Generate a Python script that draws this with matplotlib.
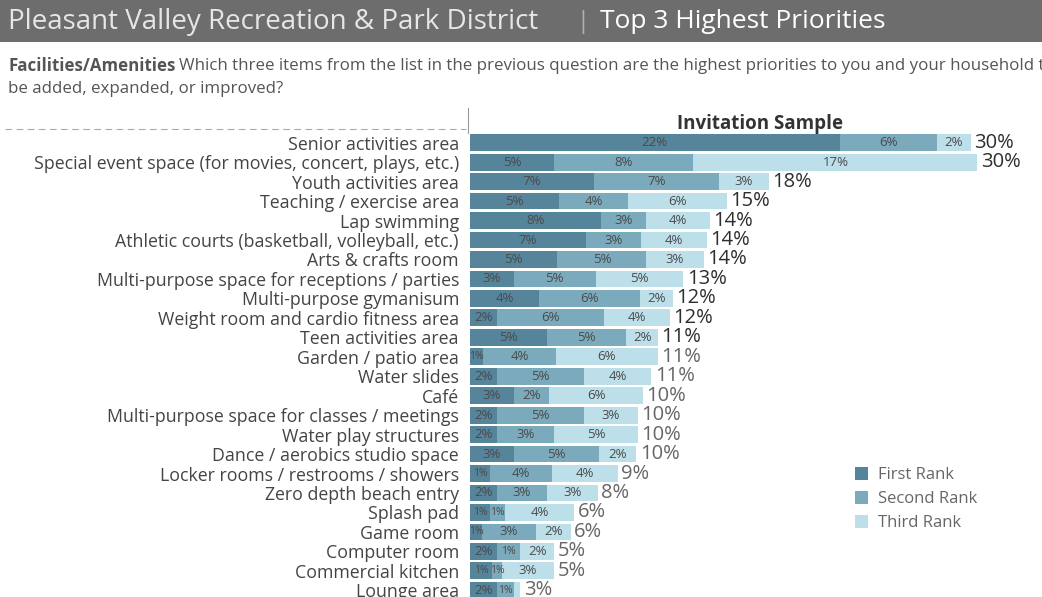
import matplotlib.pyplot as plt
from matplotlib.patches import Rectangle, Patch

plt.rcParams['font.family'] = ['Open Sans', 'DejaVu Sans']

# ── data: share of households choosing each item as 1st / 2nd / 3rd priority (%) ──
items = [
    "Senior activities area",
    "Special event space (for movies, concert, plays, etc.)",
    "Youth activities area",
    "Teaching / exercise area",
    "Lap swimming",
    "Athletic courts (basketball, volleyball, etc.)",
    "Arts & crafts room",
    "Multi-purpose space for receptions / parties",
    "Multi-purpose gymanisum",
    "Weight room and cardio fitness area",
    "Teen activities area",
    "Garden / patio area",
    "Water slides",
    "Café",
    "Multi-purpose space for classes / meetings",
    "Water play structures",
    "Dance / aerobics studio space",
    "Locker rooms / restrooms / showers",
    "Zero depth beach entry",
    "Splash pad",
    "Game room",
    "Computer room",
    "Commercial kitchen",
    "Lounge area",
]
first_rank = [22.0, 5.0, 7.4, 5.3, 7.8, 6.9, 5.2, 2.6, 4.1, 1.6, 4.6, 0.8,
              1.6, 2.6, 1.6, 1.6, 2.6, 1.2, 1.6, 1.2, 0.7, 1.6, 1.3, 1.6]
second_rank = [5.8, 8.3, 7.4, 4.1, 2.7, 3.3, 5.3, 4.9, 6.0, 6.4, 4.7, 4.3,
               5.2, 2.1, 5.2, 3.4, 5.1, 3.7, 3.0, 0.9, 3.2, 1.4, 0.6, 1.0]
third_rank = [2.0, 16.9, 3.0, 5.9, 3.8, 3.9, 3.4, 5.2, 2.0, 3.9, 1.9, 6.1,
              4.0, 5.6, 3.2, 5.0, 2.2, 3.9, 3.0, 4.1, 2.1, 2.0, 3.1, 0.4]
rank_names = ["First Rank", "Second Rank", "Third Rank"]
rank_colors = ["#55849b", "#7aaabc", "#bcdfea"]

W, H = 1042, 597
def fx(px):
    return px / W
def fy(py):
    return 1 - py / H

fig = plt.figure(figsize=(W / 100, H / 100), dpi=100)

# header banner
fig.patches.append(Rectangle((0, fy(42)), 1, 42 / H, transform=fig.transFigure,
                             facecolor="#6d6d6d", edgecolor="none", zorder=0))
fig.text(fx(8), fy(22), "Pleasant Valley Recreation & Park District", fontsize=20,
         color="#e6e6e6", va="center", ha="left")
fig.text(fx(583), fy(22), "|", fontsize=17, color="#b0b0b0", va="center", ha="center")
fig.text(fx(600), fy(22), "Top 3 Highest Priorities", fontsize=19, color="white",
         fontweight="medium", va="center", ha="left")

# question text (runs past the right edge)
bold = fig.text(fx(8), fy(66), "Facilities/Amenities", fontsize=12.2, color="#555555",
                fontweight="bold", va="center", ha="left")
fig.canvas.draw()
bb = bold.get_window_extent()
fig.text(bb.x1 / W + fx(4), fy(66),
         "Which three items from the list in the previous question are the highest "
         "priorities to you and your household to",
         fontsize=12.2, color="#555555", va="center", ha="left")
fig.text(fx(8), fy(89), "be added, expanded, or improved?", fontsize=12.2,
         color="#555555", va="center", ha="left")

# divider and faint header rule of the table
fig.add_artist(plt.Line2D([fx(468), fx(468)], [fy(108), fy(133)], color="#999999", lw=0.8))
fig.add_artist(plt.Line2D([fx(5), fx(466)], [fy(129), fy(129)], color="#aaaaaa",
                          lw=0.8, ls=(0, (6, 4))))

# ── stacked bars ──
ax = fig.add_axes([fx(470), fy(600), 1 - fx(470), (600 - 133) / H])
ypos = list(range(len(items)))
left = [0.0] * len(items)
for vals, color, name in zip([first_rank, second_rank, third_rank], rank_colors, rank_names):
    ax.barh(ypos, vals, left=left, height=0.86, color=color, edgecolor="none", label=name)
    for y, l, v in zip(ypos, left, vals):
        if v >= 0.5:
            ax.text(l + v / 2, y, f"{v:.0f}%", ha="center", va="center",
                    fontsize=9.5 if v >= 1.5 else 7.5, color="#4a4a4a")
    left = [a + b for a, b in zip(left, vals)]

for y, tot in zip(ypos, left):
    ax.text(tot + 0.2, y, f"{tot:.0f}%", ha="left", va="center", fontsize=14.5,
            color="#2e2e2e" if y < 11 else "#666666")

ax.set_xlim(0, (W - 470) / 16.8)
ax.set_ylim(len(items) - 0.5, -0.5)
ax.set_yticks(ypos)
ax.set_yticklabels(items, fontsize=12.8, color="#444444")
ax.tick_params(axis="y", length=0, pad=8)
ax.set_xticks([])
for s in ax.spines.values():
    s.set_visible(False)

fig.text(fx(760), fy(124), "Invitation Sample", fontsize=13.5, fontweight="bold",
         color="#333333", ha="center", va="center")

handles = [Patch(facecolor=c, edgecolor="none") for c in rank_colors]
fig.legend(handles, rank_names, loc="upper left", bbox_to_anchor=(fx(840), fy(452)),
           frameon=False, fontsize=12, labelcolor="#666666", handlelength=0.75,
           handleheight=0.85, handletextpad=0.6, labelspacing=0.45)

fig.savefig("out.png", dpi=100)
